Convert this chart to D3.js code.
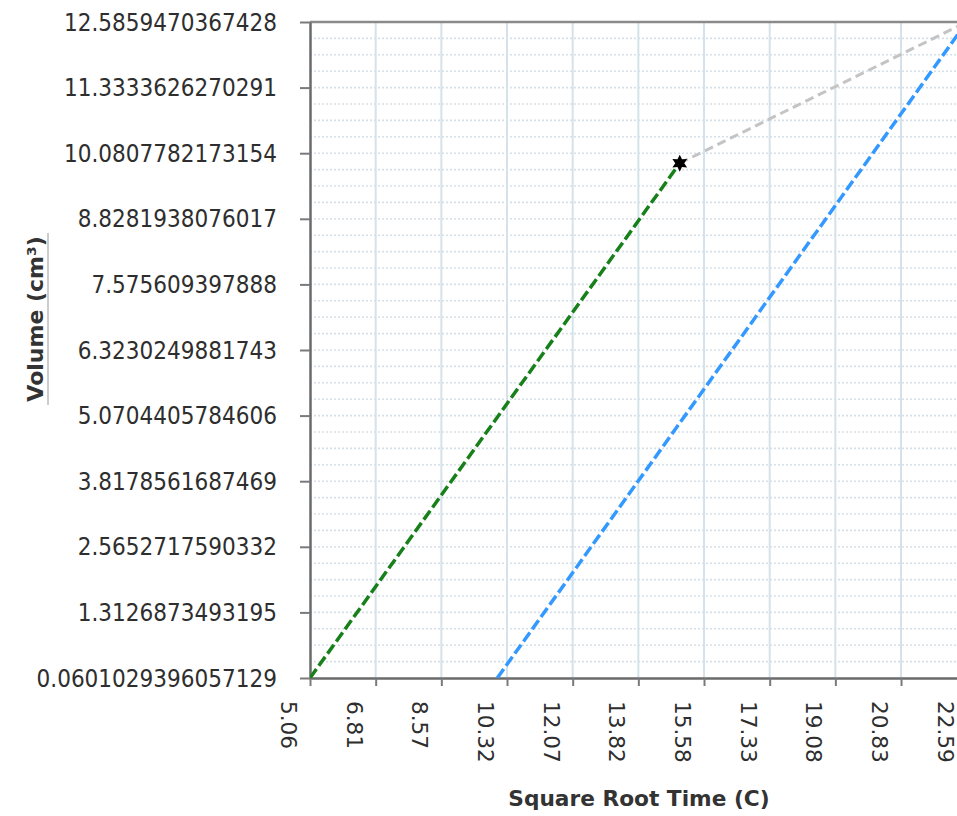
<!DOCTYPE html>
<html><head><meta charset="utf-8">
<script src="https://cdn.jsdelivr.net/npm/d3@7"></script>
<style>html,body{margin:0;padding:0;background:#fff;}svg{display:block;}</style>
</head><body>
<script>
// ---- data ----
const xTickLabels = ["5.06","6.81","8.57","10.32","12.07","13.82","15.58","17.33","19.08","20.83","22.59"];
const yTickLabels = ["0.0601029396057129","1.3126873493195","2.5652717590332","3.8178561687469","5.0704405784606","6.3230249881743","7.575609397888","8.8281938076017","10.0807782173154","11.3333626270291","12.5859470367428"];
const xMin = 5.06, xMax = 22.59;
const yMin = 0.0601029396057129, yMax = 12.5859470367428;
const greenX = [5.06, 14.93];
const greenY = [0.0601, 9.89];
const blueX = [10.06, 22.59];
const blueY = [0.0601, 12.586];
const greyX = [14.93, 22.59];
const greyY = [9.89, 12.586];
const starX = [14.93];
const starY = [9.89];
const xTitle = "Square Root Time (C)";
const yTitle = "Volume (cm³)";

// ---- layout ----
const W = 957, H = 816;
const L = 310, R = 966.7, T = 22, B = 678;
const svg = d3.select("body").append("svg").attr("width", W).attr("height", H);

const x = d3.scaleLinear().domain([xMin, xMax]).range([L, R]);
const y = d3.scaleLinear().domain([yMin, yMax]).range([B, T]);
const xTickVals = xTickLabels.map((d, i) => xMin + i * (xMax - xMin) / (xTickLabels.length - 1));
const yTickVals = yTickLabels.map((d, i) => yMin + i * (yMax - yMin) / (yTickLabels.length - 1));
const yMinorVals = d3.range(0, (yTickLabels.length - 1) * 4 + 1).map(i => yMin + i * (yMax - yMin) / ((yTickLabels.length - 1) * 4));

// horizontal dotted grid
svg.append("g").selectAll("line").data(yMinorVals.slice(1)).join("line")
  .attr("x1", L).attr("x2", R).attr("y1", d => y(d)).attr("y2", d => y(d))
  .attr("stroke", "#d6e0e8").attr("stroke-width", 1.6).attr("stroke-dasharray", "2,2");
// vertical grid
svg.append("g").selectAll("line").data(xTickVals.slice(1)).join("line")
  .attr("x1", d => x(d)).attr("x2", d => x(d)).attr("y1", T).attr("y2", B)
  .attr("stroke", "#d5e2ea").attr("stroke-width", 2);

// top border
svg.append("line").attr("x1", L).attr("x2", R).attr("y1", T).attr("y2", T)
  .attr("stroke", "#8a8a8a").attr("stroke-width", 2.5);

// axes
const xAxis = d3.axisBottom(x).tickValues(xTickVals).tickFormat("").tickSize(8).tickSizeOuter(0);
const yAxis = d3.axisLeft(y).tickValues(yTickVals).tickFormat("").tickSize(10).tickSizeOuter(0);
const gx = svg.append("g").attr("transform", `translate(0,${B})`).call(xAxis);
const gy = svg.append("g").attr("transform", `translate(${L},0)`).call(yAxis);
[gx, gy].forEach(g => {
  g.select(".domain").attr("stroke", "#6a6a6a").attr("stroke-width", 2.5);
  g.selectAll(".tick line").attr("stroke", "#7a7a7a").attr("stroke-width", 2);
});

// tick labels
const labFont = "'DejaVu Sans', Verdana, sans-serif";
svg.append("g").selectAll("text").data(yTickVals).join("text")
  .attr("transform", d => `translate(277,${y(d)}) scale(0.9,1)`)
  .attr("dy", "0.36em").attr("text-anchor", "end")
  .attr("font-family", labFont).attr("font-size", 24).attr("fill", "#2e2e2e")
  .text((d, i) => yTickLabels[i]);
svg.append("g").selectAll("text").data(xTickVals).join("text")
  .attr("transform", d => `translate(${x(d) - 29},701) rotate(90) scale(0.9,0.9)`)
  .attr("text-anchor", "start")
  .attr("font-family", labFont).attr("font-size", 24).attr("fill", "#2e2e2e")
  .text((d, i) => xTickLabels[i]);

// titles
svg.append("text").attr("x", 639).attr("y", 806).attr("text-anchor", "middle")
  .attr("font-family", labFont).attr("font-weight", "bold").attr("font-size", 21.7).attr("fill", "#333")
  .text(xTitle);
svg.append("text").attr("transform", "translate(43,319) rotate(-90)").attr("text-anchor", "middle")
  .attr("font-family", labFont).attr("font-weight", "bold").attr("font-size", 22).attr("fill", "#333")
  .text(yTitle);
svg.append("line").attr("x1", 48).attr("x2", 48).attr("y1", 233).attr("y2", 405)
  .attr("stroke", "#9a9a9a").attr("stroke-width", 1);

// series
const clip = svg.append("clipPath").attr("id", "plot").append("rect")
  .attr("x", L).attr("y", T - 2).attr("width", R - L).attr("height", B - T + 2);
const line = d3.line().x(d => x(d[0])).y(d => y(d[1]));
const gS = svg.append("g").attr("clip-path", "url(#plot)");
gS.append("path").datum(d3.zip(greyX, greyY)).attr("d", line)
  .attr("fill", "none").attr("stroke", "#c4c4c4").attr("stroke-width", 3).attr("stroke-dasharray", "9,5");
gS.append("path").datum(d3.zip(blueX, blueY)).attr("d", line)
  .attr("fill", "none").attr("stroke", "#3399ff").attr("stroke-width", 3.5).attr("stroke-dasharray", "11,4");
gS.append("path").datum(d3.zip(greenX, greenY)).attr("d", line)
  .attr("fill", "none").attr("stroke", "#17801a").attr("stroke-width", 3.5).attr("stroke-dasharray", "11,4");

// star marker (6-point)
const starPts = d3.range(12).map(i => {
  const a = i * Math.PI / 6 - Math.PI / 2, r = i % 2 === 0 ? 8.5 : 4.5;
  return [r * Math.cos(a), r * Math.sin(a)];
});
svg.append("g").selectAll("path").data(d3.zip(starX, starY)).join("path")
  .attr("transform", d => `translate(${x(d[0])},${y(d[1])})`)
  .attr("d", d3.line()(starPts) + "Z").attr("fill", "#000");
</script>
</body></html>
